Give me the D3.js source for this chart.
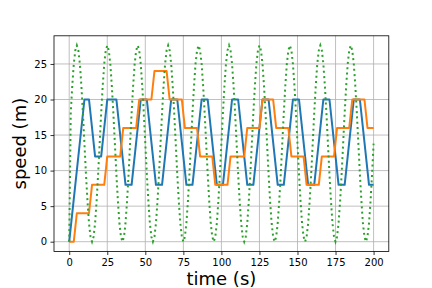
<!DOCTYPE html>
<html>
<head>
<meta charset="utf-8">
<script src="https://cdn.jsdelivr.net/npm/d3@7"></script>
<style>
  body { margin: 0; background: #fff; }
  svg text { font-family: "DejaVu Sans", sans-serif; }
</style>
</head>
<body>
<div id="chart"></div>
<script>
// blue: speed, vertices (time, value)
let blue_t = [0, 10, 13, 17, 21, 25, 31, 37, 41, 47, 51, 57, 61, 67, 71, 77, 81, 87, 91, 97, 101,
  107, 111, 117, 121, 127, 131, 137, 141, 147, 151, 157, 161, 167, 171, 177, 181, 187, 191, 197, 200];
let blue_v = [0, 20, 20, 12, 12, 20, 20, 8, 8, 20, 20, 8, 8, 20, 20, 8, 8, 20, 20, 8, 8,
  20, 20, 8, 8, 20, 20, 8, 8, 20, 20, 8, 8, 20, 20, 8, 8, 20, 20, 8, 8];

// orange: stepped target
let orange_t = [0, 3, 5, 13, 15, 23, 25, 33.5, 35.5, 44, 46, 54, 56, 64, 66, 74, 76, 84, 86, 94, 96,
  104, 106, 115, 117, 125, 127, 134, 136, 144, 146, 154, 156, 164, 166, 174, 176, 184, 186, 194, 196, 200];
let orange_v = [0, 0, 4, 4, 8, 8, 12, 12, 16, 16, 20, 20, 24, 24, 20, 20, 16, 16, 12, 12, 8,
  8, 12, 12, 16, 16, 20, 20, 16, 16, 12, 12, 8, 8, 12, 12, 16, 16, 20, 20, 16, 16];

// green: one value per second, t = 0..200
let green_v = [0, 18.1, 21.9, 25.0, 26.9, 27.6, 26.9, 25.0, 21.9, 18.1, 13.8, 9.5, 5.7, 2.6, 0.7, 0, 0.7, 2.6, 5.7, 9.5,
  13.8, 18.1, 21.9, 25.0, 26.9, 27.6, 26.9, 25.0, 21.9, 18.1, 13.8, 9.5, 5.7, 2.6, 0.7, 0, 0.7, 2.6, 5.7, 9.5,
  13.8, 18.1, 21.9, 25.0, 26.9, 27.6, 26.9, 25.0, 21.9, 18.1, 13.8, 9.5, 5.7, 2.6, 0.7, 0, 0.7, 2.6, 5.7, 9.5,
  13.8, 18.1, 21.9, 25.0, 26.9, 27.6, 26.9, 25.0, 21.9, 18.1, 13.8, 9.5, 5.7, 2.6, 0.7, 0, 0.7, 2.6, 5.7, 9.5,
  13.8, 18.1, 21.9, 25.0, 26.9, 27.6, 26.9, 25.0, 21.9, 18.1, 13.8, 9.5, 5.7, 2.6, 0.7, 0, 0.7, 2.6, 5.7, 9.5,
  13.8, 18.1, 21.9, 25.0, 26.9, 27.6, 26.9, 25.0, 21.9, 18.1, 13.8, 9.5, 5.7, 2.6, 0.7, 0, 0.7, 2.6, 5.7, 9.5,
  13.8, 18.1, 21.9, 25.0, 26.9, 27.6, 26.9, 25.0, 21.9, 18.1, 13.8, 9.5, 5.7, 2.6, 0.7, 0, 0.7, 2.6, 5.7, 9.5,
  13.8, 18.1, 21.9, 25.0, 26.9, 27.6, 26.9, 25.0, 21.9, 18.1, 13.8, 9.5, 5.7, 2.6, 0.7, 0, 0.7, 2.6, 5.7, 9.5,
  13.8, 18.1, 21.9, 25.0, 26.9, 27.6, 26.9, 25.0, 21.9, 18.1, 13.8, 9.5, 5.7, 2.6, 0.7, 0, 0.7, 2.6, 5.7, 9.5,
  13.8, 18.1, 21.9, 25.0, 26.9, 27.6, 26.9, 25.0, 21.9, 18.1, 13.8, 9.5, 5.7, 2.6, 0.7, 0, 0.7, 2.6, 5.7, 9.5,
  13.8];

let x_ticks = [0, 25, 50, 75, 100, 125, 150, 175, 200];
let y_ticks = [0, 5, 10, 15, 20, 25];

let width = 432, height = 288;
let ax_left = 54, ax_right = 388.8, ax_top = 35.8, ax_bottom = 251.5;

let svg = d3.select("#chart").append("svg")
  .attr("width", width).attr("height", height);

let x = d3.scaleLinear().domain([-10, 210]).range([ax_left, ax_right]);
let y = d3.scaleLinear().domain([-1.38, 28.96]).range([ax_bottom, ax_top]);

// grid
svg.append("g").selectAll("line").data(x_ticks).enter().append("line")
  .attr("x1", d => x(d)).attr("x2", d => x(d))
  .attr("y1", ax_top).attr("y2", ax_bottom)
  .style("stroke", "#b0b0b0").style("stroke-width", 0.8);
svg.append("g").selectAll("line").data(y_ticks).enter().append("line")
  .attr("x1", ax_left).attr("x2", ax_right)
  .attr("y1", d => y(d)).attr("y2", d => y(d))
  .style("stroke", "#b0b0b0").style("stroke-width", 0.8);

// lines
let plot = svg.append("g");
let line = d3.line().x(d => x(d[0])).y(d => y(d[1]));

plot.append("path")
  .datum(blue_t.map((t, i) => [t, blue_v[i]]))
  .attr("d", line)
  .style("fill", "none").style("stroke", "#1f77b4").style("stroke-width", 2)
  .style("stroke-linejoin", "round");

plot.append("path")
  .datum(orange_t.map((t, i) => [t, orange_v[i]]))
  .attr("d", line)
  .style("fill", "none").style("stroke", "#ff7f0e").style("stroke-width", 2)
  .style("stroke-linejoin", "round");

plot.append("path")
  .datum(green_v.map((v, i) => [i, v]))
  .attr("d", line)
  .style("fill", "none").style("stroke", "#2ca02c").style("stroke-width", 2)
  .style("stroke-dasharray", "2,3.3");

// axes
let xAxis = d3.axisBottom(x).tickValues(x_ticks).tickSize(3.5).tickPadding(3.5);
let yAxis = d3.axisLeft(y).tickValues(y_ticks).tickSize(3.5).tickPadding(3.5);

let gx = svg.append("g").attr("transform", "translate(0," + ax_bottom + ")").call(xAxis);
let gy = svg.append("g").attr("transform", "translate(" + ax_left + ",0)").call(yAxis);
[gx, gy].forEach(g => {
  g.select(".domain").remove();
  g.selectAll(".tick line").style("stroke", "#000").style("stroke-width", 0.8);
  g.selectAll(".tick text").style("font-size", "10px").style("fill", "#000")
    .style("font-family", "DejaVu Sans");
});

// frame
svg.append("rect")
  .attr("x", ax_left).attr("y", ax_top)
  .attr("width", ax_right - ax_left).attr("height", ax_bottom - ax_top)
  .style("fill", "none").style("stroke", "#000").style("stroke-width", 0.8);

// labels
svg.append("text")
  .attr("x", (ax_left + ax_right) / 2).attr("y", 285)
  .attr("text-anchor", "middle")
  .style("font-size", "18px")
  .text("time (s)");

svg.append("text")
  .attr("transform", "translate(26," + (ax_top + ax_bottom) / 2 + ") rotate(-90)")
  .attr("text-anchor", "middle")
  .style("font-size", "18px")
  .text("speed (m)");
</script>
</body>
</html>
